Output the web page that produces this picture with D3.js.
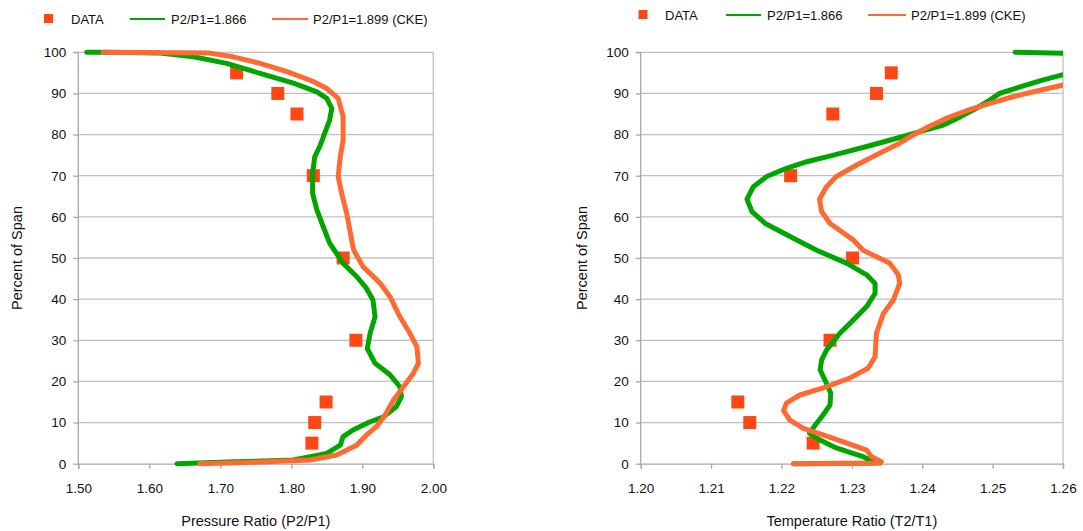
<!DOCTYPE html>
<html>
<head>
<meta charset="utf-8">
<script src="https://cdn.jsdelivr.net/npm/d3@7/dist/d3.min.js"></script>
<style>
  html, body { margin: 0; padding: 0; background: #fff; }
  svg { display: block; font-family: "Liberation Sans", Arial, sans-serif; }
</style>
</head>
<body>
<svg id="chart" width="1083" height="531"></svg>
<script>
// ---------------- DATA ----------------
const spanTicks = [0, 10, 20, 30, 40, 50, 60, 70, 80, 90, 100];
const pressureTicks = [1.50, 1.60, 1.70, 1.80, 1.90, 2.00];
const temperatureTicks = [1.20, 1.21, 1.22, 1.23, 1.24, 1.25, 1.26];

const legendLabels = ["DATA", "P2/P1=1.866", "P2/P1=1.899 (CKE)"];
const yTitle = "Percent of Span";
const pressureTitle = "Pressure Ratio (P2/P1)";
const temperatureTitle = "Temperature Ratio (T2/T1)";

// measured data points
const dataSpan = [95, 90, 85, 70, 50, 30, 15, 10, 5];
const dataPressure = [1.723, 1.781, 1.808, 1.831, 1.873, 1.891, 1.849, 1.833, 1.829];
const dataTemperature = [1.2356, 1.2335, 1.2273, 1.2213, 1.2301, 1.2269, 1.2138, 1.2155, 1.2245];

// P2/P1 = 1.866 pressure ratio profile
const p1866Span = [0, 0.4, 0.9, 2.5, 4.5, 6.6, 8.2, 10.2, 11.4, 13.9, 16.3, 18.7, 21.6, 24.4, 28.0, 31.7, 35.7, 39.8, 42.6, 45.5, 48.7, 53.6, 57.6, 61.7, 65.7, 70.6, 74.6, 77.1, 80.3, 83.5, 86.4, 88.8, 90.4, 92.5, 94.9, 97.3, 98.9, 99.8, 100, 100];
const p1866Pressure = [1.639, 1.709, 1.803, 1.850, 1.869, 1.873, 1.887, 1.911, 1.930, 1.948, 1.955, 1.953, 1.939, 1.918, 1.907, 1.911, 1.918, 1.915, 1.906, 1.892, 1.873, 1.854, 1.845, 1.836, 1.830, 1.830, 1.833, 1.840, 1.847, 1.854, 1.857, 1.850, 1.836, 1.803, 1.756, 1.709, 1.662, 1.615, 1.535, 1.512];

// P2/P1 = 1.899 (CKE) pressure ratio profile
const p1899Span = [0, 0.4, 0.9, 2.1, 4.5, 7.0, 9.0, 11.8, 15.5, 18.7, 22.0, 24.4, 28.4, 31.7, 35.7, 40.6, 43.9, 47.9, 51.9, 54.4, 60.9, 64.9, 69.8, 74.6, 78.7, 84.3, 88.8, 91.2, 92.9, 95.3, 97.3, 98.9, 99.8, 100];
const p1899Pressure = [1.671, 1.756, 1.826, 1.864, 1.892, 1.906, 1.920, 1.932, 1.944, 1.958, 1.972, 1.979, 1.977, 1.967, 1.953, 1.939, 1.925, 1.901, 1.888, 1.885, 1.878, 1.872, 1.866, 1.869, 1.873, 1.873, 1.866, 1.850, 1.831, 1.794, 1.756, 1.718, 1.685, 1.535];

// P2/P1 = 1.866 temperature ratio profile
const t1866Span = [0, 0.2, 0.9, 1.7, 2.9, 4.1, 6.2, 7.4, 9.4, 11.8, 14.3, 17.1, 19.5, 22.8, 25.2, 27.6, 31.7, 34.9, 38.2, 41.4, 43.8, 45.9, 48.7, 51.9, 54.8, 58.4, 61.3, 64.3, 67.3, 69.8, 71.8, 73.4, 75.0, 77.1, 79.1, 80.7, 82.3, 84.3, 86.4, 88.4, 90.0, 91.6, 93.3, 94.5, 96.0, 99.0, 100];
const t1866Temperature = [1.2217, 1.2330, 1.2326, 1.2316, 1.2295, 1.2274, 1.2250, 1.2240, 1.2248, 1.2259, 1.2269, 1.2270, 1.2264, 1.2255, 1.2257, 1.2264, 1.2283, 1.2302, 1.2321, 1.2333, 1.2333, 1.2321, 1.2293, 1.2250, 1.2217, 1.2177, 1.2158, 1.2151, 1.2160, 1.2179, 1.2207, 1.2236, 1.2274, 1.2321, 1.2364, 1.2397, 1.2430, 1.2454, 1.2477, 1.2496, 1.2510, 1.2539, 1.2572, 1.2599, 1.2650, 1.2800, 1.2532];

// P2/P1 = 1.899 (CKE) temperature ratio profile
const t1899Span = [0, 0.1, 0.5, 1.7, 3.3, 5.0, 7.0, 8.6, 10.6, 12.9, 14.7, 16.7, 18.7, 20.8, 23.2, 26.0, 31.7, 36.6, 39.8, 43.8, 45.9, 48.7, 51.9, 54.4, 58.4, 61.3, 64.3, 67.3, 69.8, 72.6, 75.5, 77.9, 79.9, 81.9, 84.0, 85.8, 87.6, 89.2, 90.4, 92.0, 96.0, 100];
const t1899Temperature = [1.2217, 1.2340, 1.2342, 1.2328, 1.2321, 1.2293, 1.2259, 1.2231, 1.2212, 1.2203, 1.2207, 1.2226, 1.2264, 1.2297, 1.2323, 1.2333, 1.2335, 1.2345, 1.2359, 1.2368, 1.2366, 1.2354, 1.2316, 1.2302, 1.2269, 1.2257, 1.2254, 1.2264, 1.2278, 1.2307, 1.2340, 1.2368, 1.2387, 1.2409, 1.2435, 1.2463, 1.2496, 1.2529, 1.2558, 1.2599, 1.2700, 1.2800];

// ---------------- STYLE ----------------
const GREEN = "#00A600";
const ORANGE = "#FF6A33";
const DATA_COLOR = "#FF4714";
const GRID = "#C0C0C0";
const AXIS = "#A8A8A8";

const svg = d3.select("#chart");

const zip = (ys, xs) => ys.map((y, i) => ({ span: y, v: xs[i] }));

function drawPanel(cfg) {
  const g = svg.append("g");
  const x = d3.scaleLinear().domain(d3.extent(cfg.xTicks)).range([cfg.left, cfg.right]);
  const y = d3.scaleLinear().domain([0, 100]).range([cfg.bottom, cfg.top]);

  // horizontal gridlines
  g.append("g").selectAll("line").data(spanTicks.filter(d => d > 0)).join("line")
    .attr("x1", cfg.left).attr("x2", cfg.right)
    .attr("y1", d => y(d)).attr("y2", d => y(d))
    .attr("stroke", GRID).attr("stroke-width", 1.3);
  // right border
  g.append("line").attr("x1", cfg.right).attr("x2", cfg.right)
    .attr("y1", cfg.top).attr("y2", cfg.bottom)
    .attr("stroke", GRID).attr("stroke-width", 1.3);

  // y axis
  const yAxis = d3.axisLeft(y).tickValues(spanTicks).tickFormat(d3.format("d")).tickSize(5).tickPadding(7);
  const ya = g.append("g").attr("transform", `translate(${cfg.left},0)`).call(yAxis);
  // x axis
  const xAxis = d3.axisBottom(x).tickValues(cfg.xTicks).tickFormat(d3.format(".2f")).tickSize(5).tickPadding(15);
  const xa = g.append("g").attr("transform", `translate(0,${cfg.bottom})`).call(xAxis);
  [ya, xa].forEach(a => {
    a.select(".domain").attr("stroke", AXIS).attr("stroke-width", 1.3);
    a.selectAll(".tick line").attr("stroke", AXIS).attr("stroke-width", 1.3);
    a.selectAll(".tick text").attr("fill", "#111").style("font-size", "13.5px").style("font-family", "Liberation Sans, Arial, sans-serif");
  });
  ya.select(".domain").attr("d", `M-5,${cfg.top}H0V${cfg.bottom}`);

  // clip
  const clipId = "clip" + cfg.id;
  svg.append("clipPath").attr("id", clipId).append("rect")
    .attr("x", cfg.left).attr("y", cfg.top - 4)
    .attr("width", cfg.right - cfg.left).attr("height", cfg.bottom - cfg.top + 8);

  const plot = g.append("g").attr("clip-path", `url(#${clipId})`);

  // data squares
  const sq = 13;
  plot.selectAll("rect.data").data(zip(dataSpan, cfg.data)).join("rect")
    .attr("class", "data")
    .attr("x", d => x(d.v) - sq / 2).attr("y", d => y(d.span) - sq / 2)
    .attr("width", sq).attr("height", sq).attr("fill", DATA_COLOR);

  const line = d3.line().x(d => x(d.v)).y(d => y(d.span));
  plot.append("path").datum(cfg.green).attr("d", line)
    .attr("fill", "none").attr("stroke", GREEN).attr("stroke-width", 5)
    .attr("stroke-linejoin", "round").attr("stroke-linecap", "round");
  plot.append("path").datum(cfg.orange).attr("d", line)
    .attr("fill", "none").attr("stroke", ORANGE).attr("stroke-width", 5)
    .attr("stroke-linejoin", "round").attr("stroke-linecap", "round");

  // axis titles
  g.append("text").attr("x", (cfg.left + cfg.right) / 2).attr("y", 526)
    .attr("text-anchor", "middle").style("font-size", "14.5px").attr("fill", "#111")
    .text(cfg.xTitle);
  g.append("text")
    .attr("transform", `translate(${cfg.yTitleX},${(cfg.top + cfg.bottom) / 2}) rotate(-90)`)
    .attr("text-anchor", "middle").style("font-size", "14.5px").attr("fill", "#111")
    .text(yTitle);

  // legend
  const L = cfg.legend;
  const lg = g.append("g").style("font-size", "13px").attr("fill", "#111");
  lg.append("rect").attr("x", L.sq - 4.5).attr("y", L.y - 4.5).attr("width", 9).attr("height", 9).attr("fill", DATA_COLOR);
  lg.append("text").attr("x", L.t0).attr("y", L.y + 5).text(legendLabels[0]);
  lg.append("line").attr("x1", L.l1[0]).attr("x2", L.l1[1]).attr("y1", L.y + 0.5).attr("y2", L.y + 0.5).attr("stroke", GREEN).attr("stroke-width", 2);
  lg.append("text").attr("x", L.t1).attr("y", L.y + 5).text(legendLabels[1]);
  lg.append("line").attr("x1", L.l2[0]).attr("x2", L.l2[1]).attr("y1", L.y + 0.5).attr("y2", L.y + 0.5).attr("stroke", ORANGE).attr("stroke-width", 2);
  lg.append("text").attr("x", L.t2).attr("y", L.y + 5).text(legendLabels[2]);
}

drawPanel({
  id: "P", left: 78.3, right: 433.3, top: 52.3, bottom: 463.7,
  xTicks: pressureTicks, xTitle: pressureTitle, yTitleX: 22,
  data: dataPressure,
  green: zip(p1866Span, p1866Pressure),
  orange: zip(p1899Span, p1899Pressure),
  legend: { y: 18.5, sq: 48.5, t0: 71, l1: [130, 165], t1: 171, l2: [272, 308], t2: 313 }
});

drawPanel({
  id: "T", left: 640.7, right: 1063, top: 52.3, bottom: 463.7,
  xTicks: temperatureTicks, xTitle: temperatureTitle, yTitleX: 587,
  data: dataTemperature,
  green: zip(t1866Span, t1866Temperature),
  orange: zip(t1899Span, t1899Temperature),
  legend: { y: 14.5, sq: 643, t0: 665, l1: [726, 761], t1: 767, l2: [868, 906], t2: 911 }
});
</script>
</body>
</html>
